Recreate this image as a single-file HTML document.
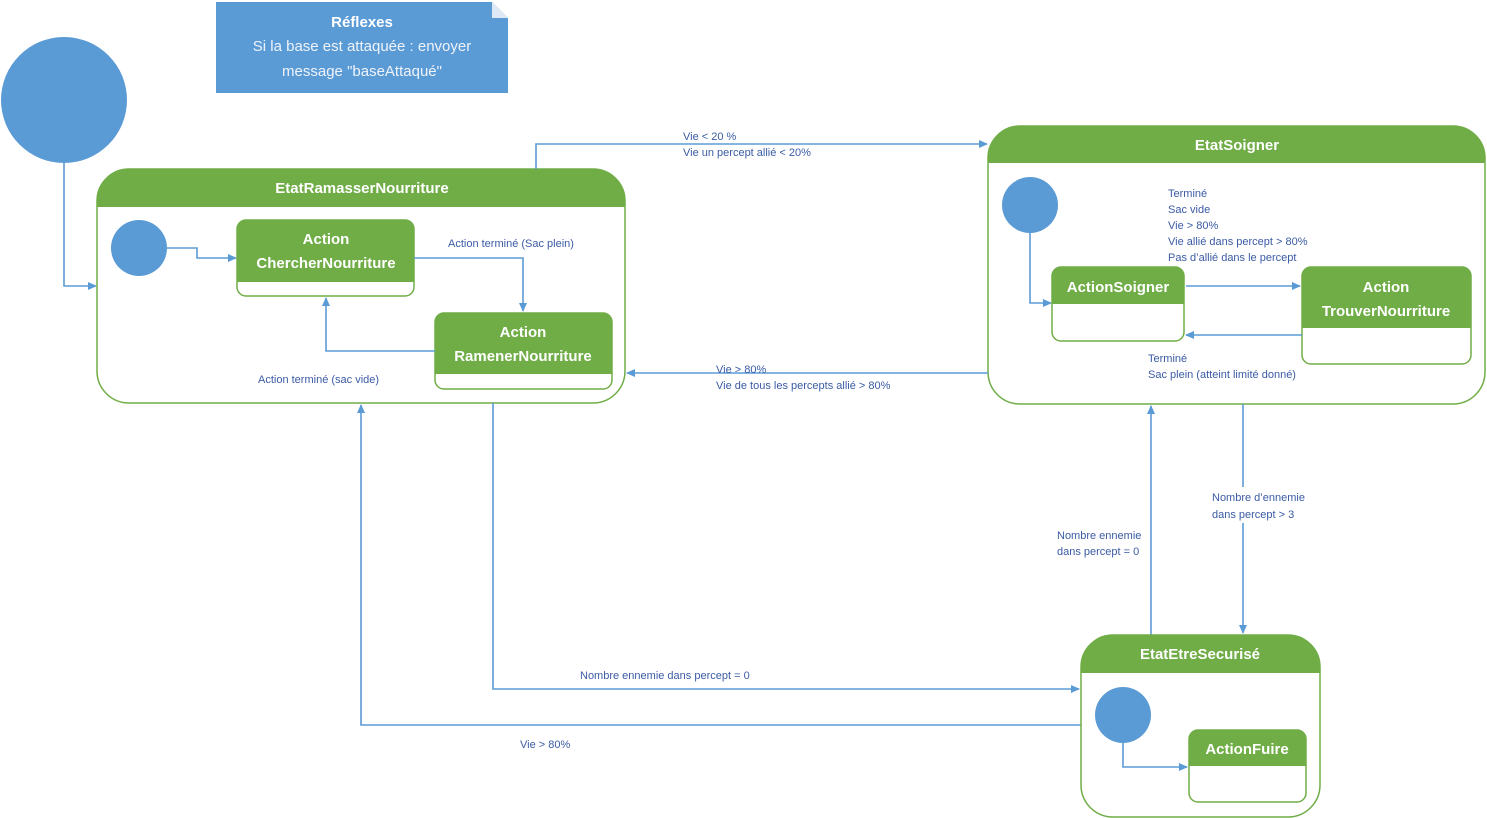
<!DOCTYPE html>
<html><head><meta charset="utf-8"><style>
html,body{margin:0;padding:0;background:#fff;}
svg{display:block;}
text{font-family:"Liberation Sans",sans-serif;}
.h{fill:#fff;font-weight:bold;font-size:15px;text-anchor:middle;}
.l{fill:#3b5ba5;font-size:11px;}
.ln{stroke:#5b9bd5;stroke-width:1.6;fill:none;}
</style></head><body>
<svg width="1487" height="818" viewBox="0 0 1487 818" xmlns="http://www.w3.org/2000/svg">
<defs>
<marker id="a" markerWidth="10" markerHeight="10" refX="8" refY="5" orient="auto" markerUnits="userSpaceOnUse"><path d="M0,1 L9,5 L0,9 z" fill="#5b9bd5"/></marker>
<clipPath id="c1"><rect x="97" y="169" width="528" height="234" rx="32"/></clipPath>
<clipPath id="c2"><rect x="988" y="126" width="497" height="278" rx="32"/></clipPath>
<clipPath id="c3"><rect x="1081" y="635" width="239" height="182" rx="32"/></clipPath>
<clipPath id="s1"><rect x="237" y="220" width="177" height="76" rx="9"/></clipPath>
<clipPath id="s2"><rect x="435" y="313" width="177" height="76" rx="9"/></clipPath>
<clipPath id="s3"><rect x="1052" y="267" width="132" height="74" rx="9"/></clipPath>
<clipPath id="s4"><rect x="1302" y="267" width="169" height="97" rx="9"/></clipPath>
<clipPath id="s5"><rect x="1189" y="730" width="117" height="72" rx="9"/></clipPath>
</defs>

<path d="M216,2 L492,2 L508,18 L508,93 L216,93 z" fill="#5b9bd5"/>
<path d="M492,2 L492,18 L508,18" fill="#dfe9f5"/>
<text x="362" y="27" fill="#fff" font-size="15" font-weight="bold" text-anchor="middle">Réflexes</text>
<text x="362" y="51" fill="#eef3fa" font-size="15" text-anchor="middle">Si la base est attaquée : envoyer</text>
<text x="362" y="76" fill="#eef3fa" font-size="15" text-anchor="middle">message "baseAttaqué"</text>

<circle cx="64" cy="100" r="63" fill="#5b9bd5"/>
<path class="ln" d="M64,163 L64,286 L96,286" marker-end="url(#a)"/>

<rect x="97" y="169" width="528" height="234" rx="32" fill="#fff"/>
<rect x="97" y="169" width="528" height="38" fill="#70ad47" clip-path="url(#c1)"/>
<rect x="97" y="169" width="528" height="234" rx="32" fill="none" stroke="#70ad47" stroke-width="1.5"/>
<text class="h" x="362" y="193">EtatRamasserNourriture</text>
<circle cx="139" cy="248" r="28" fill="#5b9bd5"/>
<path class="ln" d="M167,248 L197,248 L197,258 L236,258" marker-end="url(#a)"/>
<rect x="237" y="220" width="177" height="62" fill="#70ad47" clip-path="url(#s1)"/>
<rect x="237" y="220" width="177" height="76" rx="9" fill="none" stroke="#70ad47" stroke-width="1.5"/>
<text class="h" x="326" y="244">Action</text>
<text class="h" x="326" y="268">ChercherNourriture</text>
<rect x="435" y="313" width="177" height="61" fill="#70ad47" clip-path="url(#s2)"/>
<rect x="435" y="313" width="177" height="76" rx="9" fill="none" stroke="#70ad47" stroke-width="1.5"/>
<text class="h" x="523" y="337">Action</text>
<text class="h" x="523" y="361">RamenerNourriture</text>
<path class="ln" d="M414,258 L523,258 L523,311" marker-end="url(#a)"/>
<path class="ln" d="M435,351 L326,351 L326,298" marker-end="url(#a)"/>
<text class="l" x="448" y="247">Action terminé (Sac plein)</text>
<text class="l" x="258" y="383">Action terminé (sac vide)</text>

<path class="ln" d="M536,169 L536,144 L987,144" marker-end="url(#a)"/>
<text class="l" x="683" y="140">Vie &lt; 20 %</text>
<text class="l" x="683" y="156">Vie un percept allié &lt; 20%</text>

<rect x="988" y="126" width="497" height="278" rx="32" fill="#fff"/>
<rect x="988" y="126" width="497" height="37" fill="#70ad47" clip-path="url(#c2)"/>
<rect x="988" y="126" width="497" height="278" rx="32" fill="none" stroke="#70ad47" stroke-width="1.5"/>
<text class="h" x="1237" y="150">EtatSoigner</text>
<circle cx="1030" cy="205" r="28" fill="#5b9bd5"/>
<path class="ln" d="M1030,233 L1030,303 L1051,303" marker-end="url(#a)"/>
<rect x="1052" y="267" width="132" height="37" fill="#70ad47" clip-path="url(#s3)"/>
<rect x="1052" y="267" width="132" height="74" rx="9" fill="none" stroke="#70ad47" stroke-width="1.5"/>
<text class="h" x="1118" y="292">ActionSoigner</text>
<rect x="1302" y="267" width="169" height="61" fill="#70ad47" clip-path="url(#s4)"/>
<rect x="1302" y="267" width="169" height="97" rx="9" fill="none" stroke="#70ad47" stroke-width="1.5"/>
<text class="h" x="1386" y="292">Action</text>
<text class="h" x="1386" y="316">TrouverNourriture</text>
<path class="ln" d="M1186,286 L1300,286" marker-end="url(#a)"/>
<path class="ln" d="M1302,335 L1186,335" marker-end="url(#a)"/>
<text class="l" x="1168" y="197">Terminé</text>
<text class="l" x="1168" y="213">Sac vide</text>
<text class="l" x="1168" y="229">Vie &gt; 80%</text>
<text class="l" x="1168" y="245">Vie allié dans percept &gt; 80%</text>
<text class="l" x="1168" y="261">Pas d’allié dans le percept</text>
<text class="l" x="1148" y="362">Terminé</text>
<text class="l" x="1148" y="378">Sac plein (atteint limité donné)</text>

<path class="ln" d="M988,373 L627,373" marker-end="url(#a)"/>
<text class="l" x="716" y="373">Vie &gt; 80%</text>
<text class="l" x="716" y="389">Vie de tous les percepts allié &gt; 80%</text>

<path class="ln" d="M1243,404 L1243,633" marker-end="url(#a)"/>
<rect x="1210" y="487" width="100" height="36" fill="#fff"/>
<text class="l" x="1212" y="501">Nombre d’ennemie</text>
<text class="l" x="1212" y="518">dans percept &gt; 3</text>
<path class="ln" d="M1151,635 L1151,406" marker-end="url(#a)"/>
<text class="l" x="1057" y="539">Nombre ennemie</text>
<text class="l" x="1057" y="555">dans percept = 0</text>

<path class="ln" d="M493,403 L493,689 L1079,689" marker-end="url(#a)"/>
<text class="l" x="580" y="679">Nombre ennemie dans percept = 0</text>
<path class="ln" d="M1081,725 L361,725 L361,405" marker-end="url(#a)"/>
<text class="l" x="520" y="748">Vie &gt; 80%</text>

<rect x="1081" y="635" width="239" height="182" rx="32" fill="#fff"/>
<rect x="1081" y="635" width="239" height="38" fill="#70ad47" clip-path="url(#c3)"/>
<rect x="1081" y="635" width="239" height="182" rx="32" fill="none" stroke="#70ad47" stroke-width="1.5"/>
<text class="h" x="1200" y="659">EtatEtreSecurisé</text>
<circle cx="1123" cy="715" r="28" fill="#5b9bd5"/>
<path class="ln" d="M1123,743 L1123,767 L1187,767" marker-end="url(#a)"/>
<rect x="1189" y="730" width="117" height="36" fill="#70ad47" clip-path="url(#s5)"/>
<rect x="1189" y="730" width="117" height="72" rx="9" fill="none" stroke="#70ad47" stroke-width="1.5"/>
<text class="h" x="1247" y="754">ActionFuire</text>
</svg>
</body></html>
